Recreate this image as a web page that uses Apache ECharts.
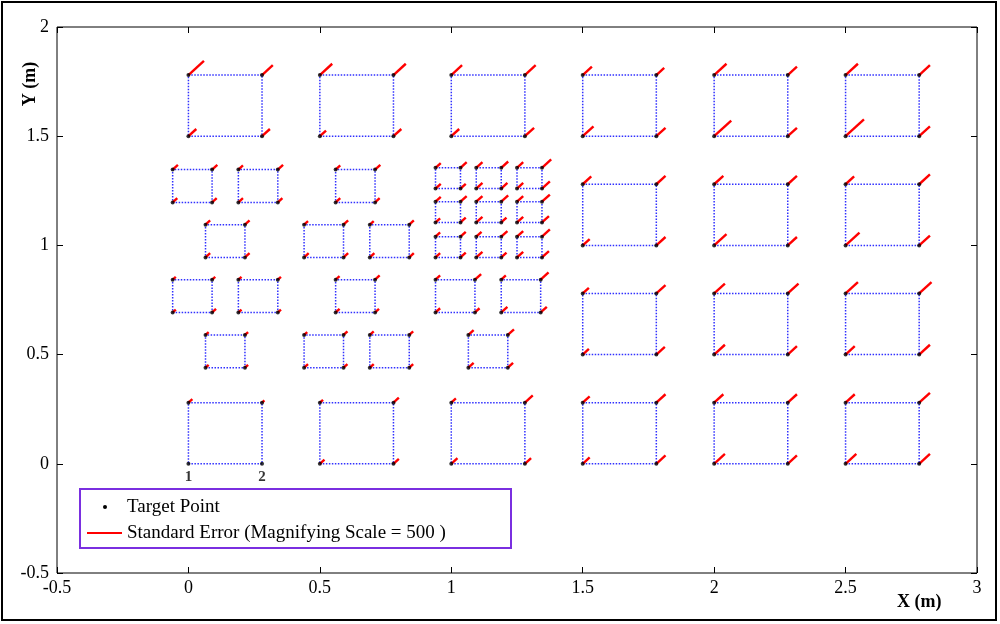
<!DOCTYPE html>
<html>
<head>
<meta charset="utf-8">
<script src="https://cdn.jsdelivr.net/npm/echarts@6/dist/echarts.min.js"></script>
<style>
html, body { margin: 0; padding: 0; background: #fff; }
#main { width: 1000px; height: 624px; }
</style>
</head>
<body>
<div id="main"></div>
<script>
// squares: left x, bottom y, side (m)
var squareLeft = [
    0, 0.5, 1.0, 1.5, 2.0, 2.5,
    1.5, 2.0, 2.5,
    1.5, 2.0, 2.5,
    0, 0.5, 1.0, 1.5, 2.0, 2.5,
    -0.06, 0.19, 0.56,
    0.065, 0.44, 0.69,
    -0.06, 0.19, 0.56, 0.94, 1.19,
    0.065, 0.44, 0.69, 1.065,
    0.94, 1.095, 1.25, 0.94, 1.095, 1.25, 0.94, 1.095, 1.25
];
var squareBottom = [
    1.5, 1.5, 1.5, 1.5, 1.5, 1.5,
    1.0, 1.0, 1.0,
    0.5, 0.5, 0.5,
    0, 0, 0, 0, 0, 0,
    1.197, 1.197, 1.197,
    0.945, 0.945, 0.945,
    0.693, 0.693, 0.693, 0.693, 0.693,
    0.44, 0.44, 0.44, 0.44,
    1.26, 1.26, 1.26, 1.105, 1.105, 1.105, 0.945, 0.945, 0.945
];
var squareSide = [
    0.28, 0.28, 0.28, 0.28, 0.28, 0.28,
    0.28, 0.28, 0.28,
    0.28, 0.28, 0.28,
    0.28, 0.28, 0.28, 0.28, 0.28, 0.28,
    0.15, 0.15, 0.15,
    0.15, 0.15, 0.15,
    0.15, 0.15, 0.15, 0.15, 0.15,
    0.15, 0.15, 0.15, 0.15,
    0.095, 0.095, 0.095, 0.095, 0.095, 0.095, 0.095, 0.095, 0.095
];
// magnified standard error per corner: bottom-left, bottom-right, top-right, top-left (m)
var cornerError = [
    [0.06, 0.06, 0.082, 0.118], [0.047, 0.06, 0.094, 0.094], [0.06, 0.07, 0.082, 0.082],
    [0.082, 0.07, 0.06, 0.07], [0.13, 0.07, 0.07, 0.094], [0.14, 0.082, 0.082, 0.094],
    [0.053, 0.07, 0.07, 0.065], [0.094, 0.07, 0.07, 0.07], [0.106, 0.082, 0.082, 0.065],
    [0.047, 0.065, 0.07, 0.047], [0.082, 0.07, 0.082, 0.082], [0.07, 0.082, 0.094, 0.094],
    [0, 0, 0.018, 0.03], [0.035, 0.041, 0.041, 0.024], [0.047, 0.047, 0.06, 0.035],
    [0.053, 0.07, 0.07, 0.053], [0.082, 0.07, 0.07, 0.07], [0.082, 0.082, 0.082, 0.07],
    [0.035, 0.035, 0.04, 0.04], [0.035, 0.035, 0.04, 0.035], [0.035, 0.035, 0.04, 0.035],
    [0.035, 0.035, 0.035, 0.035], [0.035, 0.035, 0.035, 0.03], [0.035, 0.035, 0.035, 0.03],
    [0.024, 0.03, 0.024, 0.024], [0.024, 0.024, 0.024, 0.024], [0.03, 0.03, 0.035, 0.03],
    [0.035, 0.035, 0.047, 0.035], [0.047, 0.047, 0.06, 0.035],
    [0.024, 0.024, 0.024, 0.024], [0.03, 0.03, 0.03, 0.024], [0.03, 0.03, 0.03, 0.03], [0.04, 0.04, 0.047, 0.04],
    [0.04, 0.04, 0.047, 0.04], [0.047, 0.047, 0.053, 0.047], [0.047, 0.06, 0.07, 0.047],
    [0.035, 0.04, 0.047, 0.04], [0.047, 0.04, 0.053, 0.047], [0.047, 0.053, 0.06, 0.047],
    [0.035, 0.04, 0.04, 0.035], [0.047, 0.04, 0.047, 0.04], [0.047, 0.053, 0.06, 0.047]
];
var pointLabels = ['1', '2'];

var edgeData = [], errorData = [], pointData = [];
for (var i = 0; i < squareLeft.length; i++) {
    var x0 = squareLeft[i], y0 = squareBottom[i], s = squareSide[i];
    var corners = [[x0, y0], [x0 + s, y0], [x0 + s, y0 + s], [x0, y0 + s]];
    edgeData.push({ coords: corners.concat([[x0, y0]]) });
    for (var k = 0; k < 4; k++) {
        var c = corners[k], e = cornerError[i][k];
        pointData.push(c);
        if (e > 0) {
            errorData.push({ coords: [c, [c[0] + e * 0.5, c[1] + e * 0.55]] });
        }
    }
}

var serif = '"Liberation Serif", "DejaVu Serif", serif';
var tick = { inside: true, length: 6, lineStyle: { color: '#000' } };
var chart = echarts.init(document.getElementById('main'));
var option = {
    animation: false,
    textStyle: { fontFamily: serif },
    grid: { left: 57, right: 23, top: 27, bottom: 51, show: true, borderColor: '#000', borderWidth: 1 },
    xAxis: [{
        type: 'value', min: -0.5, max: 3, interval: 0.5,
        axisLine: { show: false, onZero: false },
        axisTick: tick,
        axisLabel: { color: '#000', fontSize: 18, fontFamily: serif, margin: 6 },
        splitLine: { show: false }
    }, {
        type: 'value', min: -0.5, max: 3, interval: 0.5, position: 'top',
        axisLine: { show: false, onZero: false },
        axisTick: tick, axisLabel: { show: false }, splitLine: { show: false }
    }],
    yAxis: [{
        type: 'value', min: -0.5, max: 2, interval: 0.5,
        axisLine: { show: false, onZero: false },
        axisTick: tick,
        axisLabel: { color: '#000', fontSize: 18, fontFamily: serif, margin: 8 },
        splitLine: { show: false }
    }, {
        type: 'value', min: -0.5, max: 2, interval: 0.5, position: 'right',
        axisLine: { show: false, onZero: false },
        axisTick: tick, axisLabel: { show: false }, splitLine: { show: false }
    }],
    series: [{
        type: 'lines', coordinateSystem: 'cartesian2d', polyline: true,
        lineStyle: { color: '#3030ff', width: 1.5, type: 'dotted', opacity: 1 },
        data: edgeData, z: 2
    }, {
        type: 'lines', coordinateSystem: 'cartesian2d',
        lineStyle: { color: '#ff0000', width: 2.4, opacity: 1 },
        data: errorData, z: 3
    }, {
        type: 'scatter', symbolSize: 4,
        itemStyle: { color: '#000' },
        data: pointData, z: 4
    }, {
        type: 'scatter', symbolSize: 0,
        data: [[0, 0], [0.28, 0]],
        label: {
            show: true, position: 'bottom', distance: 6,
            formatter: function (p) { return pointLabels[p.dataIndex]; },
            color: '#000', fontWeight: 'bold', fontSize: 15, fontFamily: serif
        }
    }],
    graphic: [
        { type: 'rect', shape: { x: 2, y: 2, width: 994, height: 618 }, style: { fill: 'none', stroke: '#000', lineWidth: 2 } },
        { type: 'rect', shape: { x: 80, y: 489, width: 431, height: 59 }, style: { fill: '#fff', stroke: '#7a2fe0', lineWidth: 2 }, z: 10 },
        { type: 'circle', shape: { cx: 105, cy: 507, r: 2 }, style: { fill: '#000' }, z: 11 },
        { type: 'text', x: 127, y: 507, style: { text: 'Target Point', font: '19px ' + serif, fill: '#000', verticalAlign: 'middle' }, z: 11 },
        { type: 'line', shape: { x1: 87, y1: 533, x2: 122, y2: 533 }, style: { stroke: '#ff0000', lineWidth: 2 }, z: 11 },
        { type: 'text', x: 127, y: 533, style: { text: 'Standard Error (Magnifying Scale = 500 )', font: '19px ' + serif, fill: '#000', verticalAlign: 'middle' }, z: 11 },
        { type: 'text', x: 897, y: 602, style: { text: 'X (m)', font: 'bold 18px ' + serif, fill: '#000', verticalAlign: 'middle' } },
        { type: 'text', x: 30, y: 84, rotation: Math.PI / 2, style: { text: 'Y (m)', font: 'bold 18px ' + serif, fill: '#000', align: 'center', verticalAlign: 'middle' } }
    ]
};
chart.setOption(option);
window.addEventListener('resize', function () { chart.resize(); });
</script>
</body>
</html>
